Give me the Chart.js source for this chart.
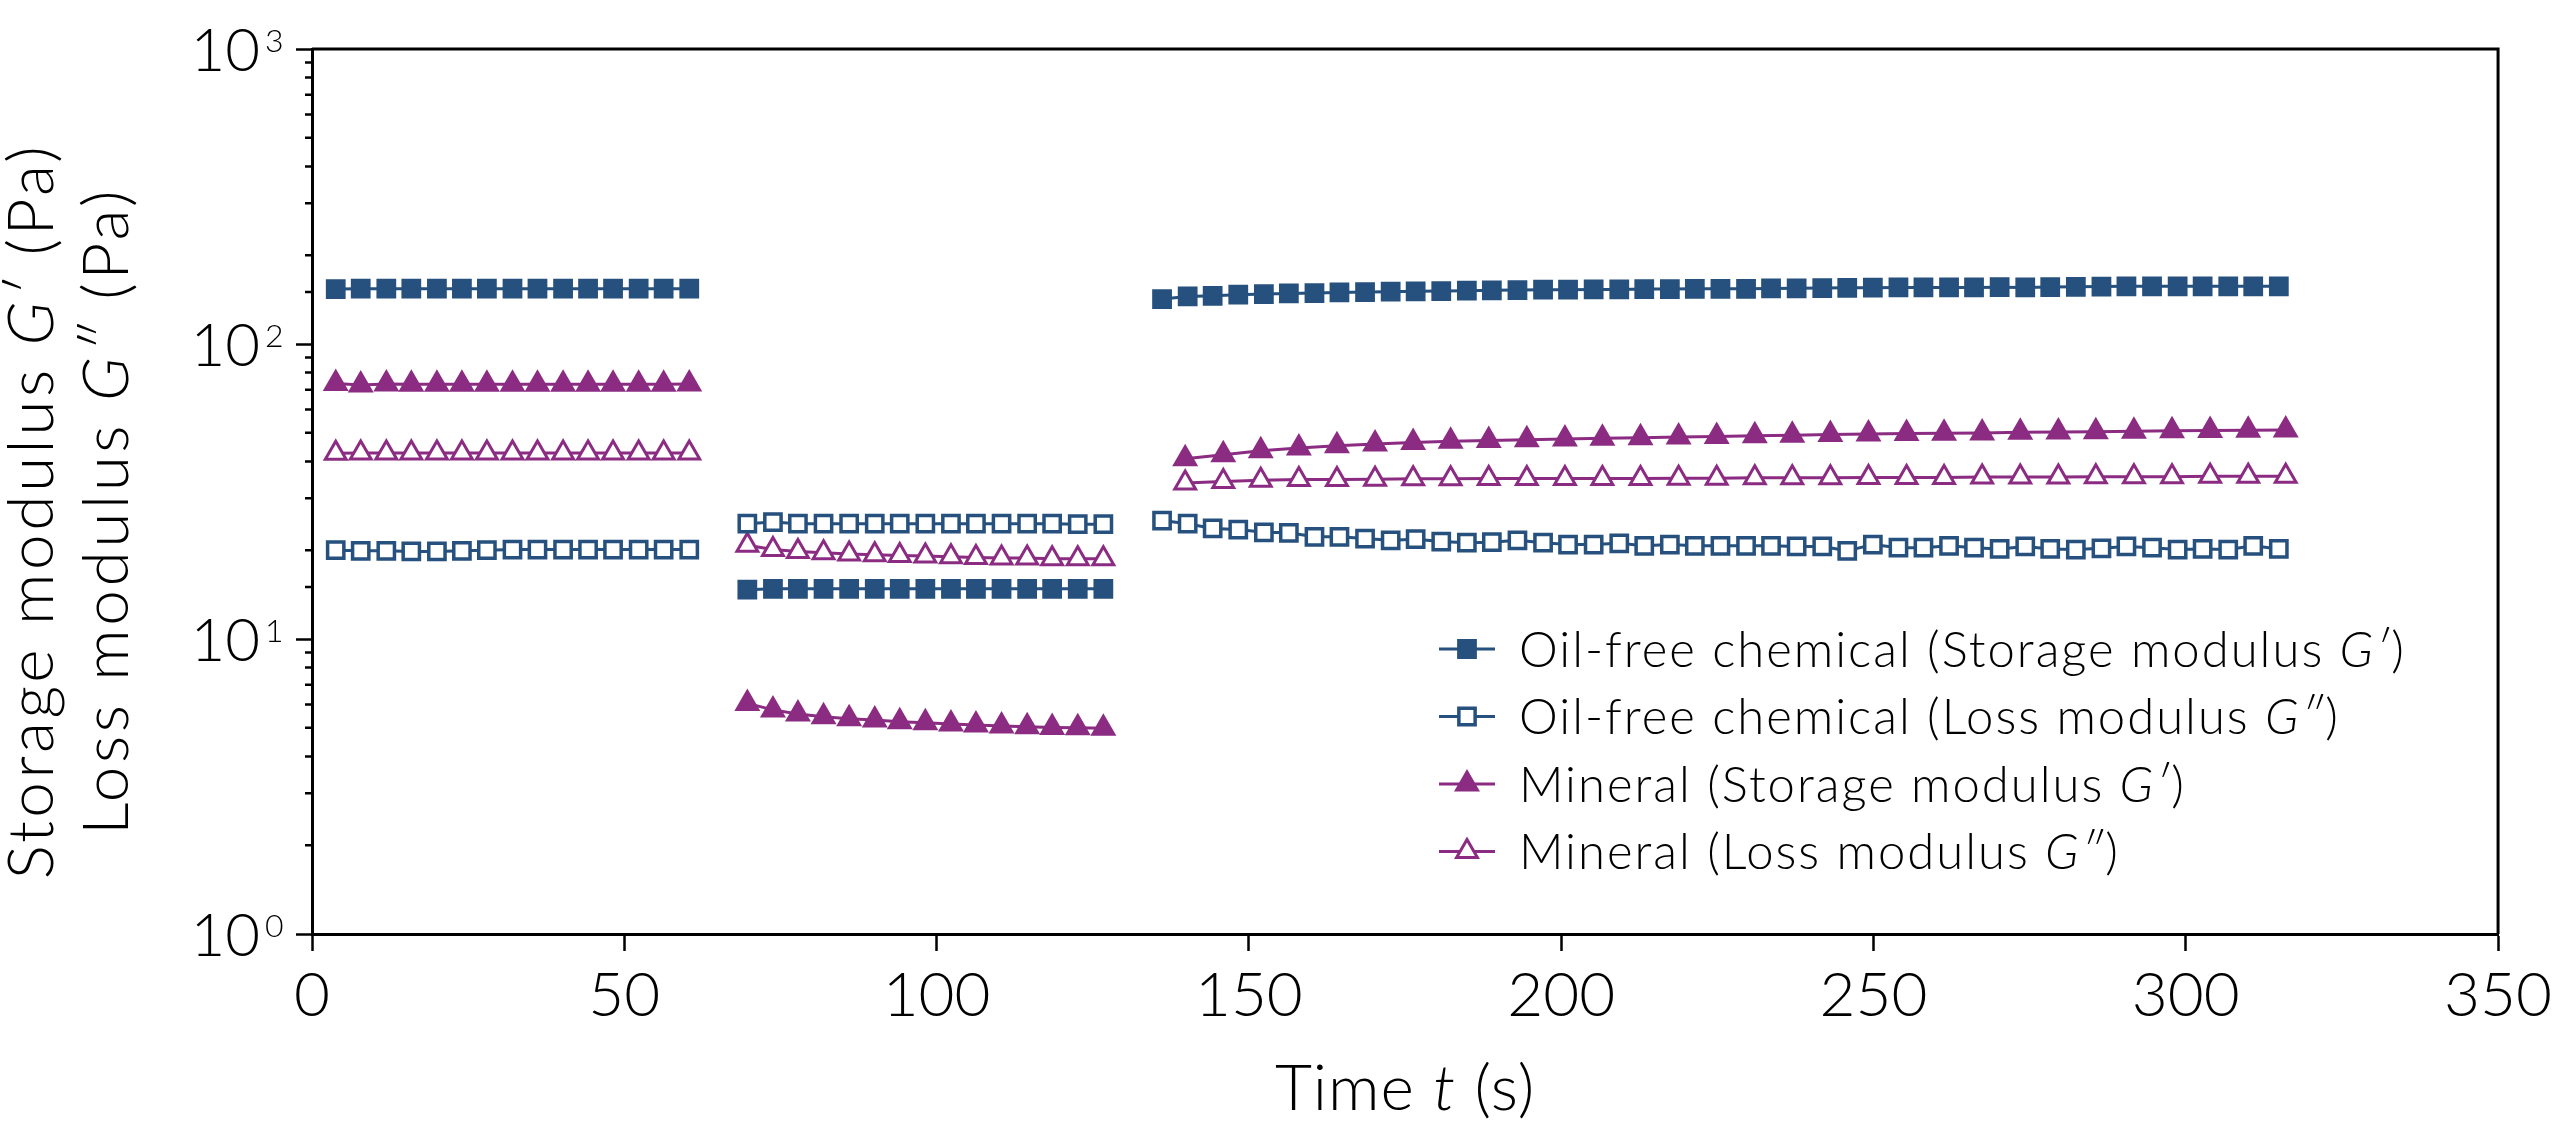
<!DOCTYPE html>
<html>
<head>
<meta charset="utf-8">
<script src="https://cdn.jsdelivr.net/npm/chart.js@4.4.0/dist/chart.umd.min.js"></script>
<style>
  html, body { margin: 0; padding: 0; background: #fff; }
  canvas { display: block; }
</style>
</head>
<body>
<canvas id="chart" width="2560" height="1129"></canvas>
<script>
// time stamps (s): low shear, high shear, recovery
const time1 = [3.8, 7.8, 11.9, 15.9, 20.0, 24.0, 28.0, 32.1, 36.1, 40.2, 44.2, 48.2, 52.3, 56.3, 60.4];
const time2 = [69.7, 73.8, 77.8, 81.9, 86.0, 90.1, 94.1, 98.2, 102.3, 106.3, 110.4, 114.5, 118.5, 122.6, 126.7];
const timeOil3 = [136.1, 140.2, 144.2, 148.3, 152.4, 156.4, 160.5, 164.5, 168.6, 172.7,
  176.7, 180.8, 184.9, 188.9, 193.0, 197.1, 201.1, 205.2, 209.3, 213.3,
  217.4, 221.4, 225.5, 229.6, 233.6, 237.7, 241.8, 245.8, 249.9, 254.0,
  258.0, 262.1, 266.1, 270.2, 274.3, 278.3, 282.4, 286.5, 290.5, 294.6,
  298.7, 302.7, 306.8, 310.8, 314.9];
const timeMin3 = [139.8, 145.9, 151.9, 158.0, 164.1, 170.2, 176.3, 182.3, 188.4, 194.5,
  200.6, 206.6, 212.7, 218.8, 224.9, 231.0, 237.0, 243.1, 249.2, 255.3,
  261.3, 267.4, 273.5, 279.6, 285.6, 291.7, 297.8, 303.9, 310.0, 316.0];

// oil-free chemical, storage modulus G' (Pa)
const oilGp1 = [153.5, 154, 154, 154, 154, 154, 154, 154, 154, 154, 154, 154, 154, 154, 154];
const oilGp2 = [14.7, 14.8, 14.8, 14.8, 14.8, 14.8, 14.8, 14.8, 14.8, 14.8, 14.8, 14.8, 14.8, 14.8, 14.8];
const oilGp3 = [142.0, 145.0, 145.7, 146.9, 147.6, 148.4, 148.8, 149.6, 150.0, 150.4,
  150.8, 151.2, 151.6, 152.0, 152.4, 152.8, 152.8, 153.1, 153.1, 153.5,
  153.5, 153.9, 153.9, 153.9, 154.3, 154.5, 154.7, 155.0, 155.2, 155.5,
  155.5, 155.5, 155.5, 155.8, 155.5, 156.0, 156.3, 156.5, 156.8, 156.8,
  156.8, 156.8, 156.8, 156.8, 156.8];

// oil-free chemical, loss modulus G'' (Pa)
const oilGpp1 = [20.0, 19.9, 19.9, 19.8, 19.8, 19.9, 20.0, 20.1, 20.1, 20.1, 20.1, 20.1, 20.1, 20.1, 20.1];
const oilGpp2 = [24.6, 24.9, 24.6, 24.6, 24.6, 24.6, 24.6, 24.6, 24.6, 24.6, 24.6, 24.6, 24.6, 24.5, 24.5];
const oilGpp3 = [25.2, 24.6, 23.7, 23.5, 23.0, 22.9, 22.2, 22.2, 21.9, 21.6,
  21.8, 21.4, 21.2, 21.3, 21.6, 21.2, 20.9, 20.9, 21.1, 20.7,
  20.9, 20.7, 20.7, 20.7, 20.7, 20.6, 20.6, 19.9, 20.9, 20.4,
  20.4, 20.7, 20.4, 20.2, 20.6, 20.2, 20.1, 20.3, 20.6, 20.4,
  20.1, 20.2, 20.1, 20.7, 20.2];

// mineral, storage modulus G' (Pa)
const minGp1 = [73.5, 72.6, 73.2, 73.0, 73.0, 73.0, 73.0, 73.0, 73.0, 73.0, 73.0, 73.0, 73.0, 73.0, 73.2];
const minGp2 = [6.05, 5.75, 5.57, 5.45, 5.37, 5.31, 5.24, 5.20, 5.15, 5.11, 5.07, 5.04, 5.01, 5.00, 4.98];
const minGp3 = [40.8, 42.1, 43.5, 44.4, 45.2, 45.8, 46.4, 46.8, 47.1, 47.4,
  47.6, 47.9, 48.1, 48.4, 48.6, 48.9, 49.1, 49.3, 49.5, 49.7,
  49.8, 49.9, 50.2, 50.3, 50.4, 50.6, 50.8, 50.9, 51.0, 51.1];

// mineral, loss modulus G'' (Pa)
const minGpp1 = [42.6, 42.7, 42.7, 42.7, 42.7, 42.7, 42.7, 42.7, 42.7, 42.7, 42.7, 42.7, 42.7, 42.7, 42.7];
const minGpp2 = [20.8, 20.1, 19.8, 19.6, 19.4, 19.3, 19.2, 19.1, 19.0, 18.9, 18.8, 18.8, 18.7, 18.7, 18.7];
const minGpp3 = [33.8, 34.2, 34.5, 34.7, 34.7, 34.8, 34.9, 34.9, 35.0, 35.0,
  35.0, 35.0, 35.0, 35.1, 35.1, 35.2, 35.2, 35.2, 35.3, 35.3,
  35.3, 35.4, 35.4, 35.4, 35.5, 35.5, 35.5, 35.6, 35.6, 35.6];

const xTicksMin = 0, xTicksMax = 350, xStep = 50;
const yMin = 1, yMax = 1000;

const blue = '#26507e';
const purple = '#8b2c82';
const FONT = 'Lato';
const WEIGHT = '300';

// put the three phases in one series, with a null point between them
function joinSegments(segs) {
  const pts = [];
  segs.forEach(([ts, vs], i) => {
    if (i > 0) pts.push({ x: (pts[pts.length - 1].x + ts[0]) / 2, y: null });
    ts.forEach((t, k) => pts.push({ x: t, y: vs[k] }));
  });
  return pts;
}

const markerSize = { rect: 11.5, triangle: 12 };
const markerStroke = { rect: 3.5, triangle: 3 };

function series(label, data, color, style, hollow) {
  return {
    label: label,
    data: data,
    borderColor: color,
    backgroundColor: color,
    borderWidth: 3,
    pointStyle: style,
    pointRadius: markerSize[style],
    pointHoverRadius: markerSize[style],
    pointBorderWidth: markerStroke[style],
    pointBorderColor: color,
    pointBackgroundColor: hollow ? '#fff' : color,
    spanGaps: false,
    tension: 0
  };
}

const legendItems = [
  { parts: [['Oil-free chemical (Storage modulus ', 0], ['G\u2032', 1], [')', 0]], color: blue, style: 'rect', hollow: false },
  { parts: [['Oil-free chemical (Loss modulus ', 0], ['G\u2033', 1], [')', 0]], color: blue, style: 'rect', hollow: true },
  { parts: [['Mineral (Storage modulus ', 0], ['G\u2032', 1], [')', 0]], color: purple, style: 'triangle', hollow: false },
  { parts: [['Mineral (Loss modulus ', 0], ['G\u2033', 1], [')', 0]], color: purple, style: 'triangle', hollow: true }
];

function isDecade(v) {
  const l = Math.log10(v);
  return Math.abs(l - Math.round(l)) < 1e-9;
}

function fontOf(italic, size) {
  return (italic ? 'italic ' : '') + WEIGHT + ' ' + size + 'px ' + FONT;
}

function drawRich(ctx, parts, x, y, size, align, spacing) {
  ctx.letterSpacing = (spacing || 0) + 'px';
  let w = 0;
  parts.forEach(p => {
    ctx.font = fontOf(p[1], size);
    w += ctx.measureText(p[0]).width;
  });
  let cx = align === 'center' ? x - w / 2 : x;
  parts.forEach(p => {
    ctx.font = fontOf(p[1], size);
    ctx.fillText(p[0], cx, y);
    cx += ctx.measureText(p[0]).width;
  });
  ctx.letterSpacing = '0px';
}

function marker(ctx, style, x, y, color, hollow) {
  ctx.fillStyle = hollow ? '#fff' : color;
  ctx.strokeStyle = color;
  ctx.lineWidth = markerStroke[style];
  Chart.helpers.drawPoint(ctx, { pointStyle: style, radius: markerSize[style], rotation: 0, borderWidth: markerStroke[style] }, x, y);
}

const decor = {
  id: 'decor',
  afterDraw(chart) {
    const { ctx, chartArea: a, scales: { y } } = chart;
    ctx.save();
    ctx.strokeStyle = '#000';
    ctx.lineWidth = 3;
    ctx.beginPath();
    ctx.moveTo(a.left, a.top);
    ctx.lineTo(a.right, a.top);
    ctx.lineTo(a.right, a.bottom);
    ctx.stroke();

    // minor ticks of the log axis
    ctx.lineWidth = 2.5;
    ctx.beginPath();
    y.ticks.forEach(t => {
      if (isDecade(t.value)) return;
      const py = y.getPixelForValue(t.value);
      ctx.moveTo(a.left - 7, py);
      ctx.lineTo(a.left, py);
    });
    ctx.stroke();

    // decade labels 10^n
    ctx.fillStyle = '#000';
    ctx.textBaseline = 'alphabetic';
    y.ticks.forEach(t => {
      if (!isDecade(t.value)) return;
      const py = y.getPixelForValue(t.value);
      ctx.font = fontOf(0, 60);
      ctx.textAlign = 'right';
      ctx.fillText('10', a.left - 52, py + 22);
      ctx.font = fontOf(0, 32);
      ctx.textAlign = 'left';
      ctx.fillText(String(Math.round(Math.log10(t.value))), a.left - 47, py + 3);
    });

    // axis titles
    ctx.textAlign = 'left';
    ctx.save();
    ctx.translate(53, 511);
    ctx.rotate(-Math.PI / 2);
    drawRich(ctx, [['Storage modulus ', 0], ['G\u2032', 1], [' (Pa)', 0]], 0, 0, 64, 'center', 3.5);
    ctx.restore();
    ctx.save();
    ctx.translate(128, 511);
    ctx.rotate(-Math.PI / 2);
    drawRich(ctx, [['Loss modulus ', 0], ['G\u2033', 1], [' (Pa)', 0]], 0, 0, 64, 'center', 3.5);
    ctx.restore();
    drawRich(ctx, [['Time ', 0], ['t', 1], [' (s)', 0]], (a.left + a.right) / 2, 1110, 64, 'center', 1);

    // legend
    legendItems.forEach((item, i) => {
      const ry = 649 + i * 67.5;
      ctx.strokeStyle = item.color;
      ctx.lineWidth = 3;
      ctx.beginPath();
      ctx.moveTo(1439, ry);
      ctx.lineTo(1495, ry);
      ctx.stroke();
      marker(ctx, item.style, 1467, ry, item.color, item.hollow);
      ctx.fillStyle = '#000';
      drawRich(ctx, item.parts, 1519, ry + 17.5, 49, 'left', 2);
    });
    ctx.restore();
  }
};

new Chart(document.getElementById('chart'), {
  type: 'line',
  data: {
    datasets: [
      series('Oil-free chemical (Storage modulus G\u2032)', joinSegments([[time1, oilGp1], [time2, oilGp2], [timeOil3, oilGp3]]), blue, 'rect', false),
      series('Oil-free chemical (Loss modulus G\u2033)', joinSegments([[time1, oilGpp1], [time2, oilGpp2], [timeOil3, oilGpp3]]), blue, 'rect', true),
      series('Mineral (Storage modulus G\u2032)', joinSegments([[time1, minGp1], [time2, minGp2], [timeMin3, minGp3]]), purple, 'triangle', false),
      series('Mineral (Loss modulus G\u2033)', joinSegments([[time1, minGpp1], [time2, minGpp2], [timeMin3, minGpp3]]), purple, 'triangle', true)
    ]
  },
  options: {
    responsive: false,
    devicePixelRatio: 1,
    animation: false,
    layout: { padding: { top: 49, right: 57, left: 0, bottom: 0 } },
    plugins: { legend: { display: false }, tooltip: { enabled: false } },
    scales: {
      x: {
        type: 'linear',
        min: xTicksMin,
        max: xTicksMax,
        ticks: { stepSize: xStep, color: '#000', font: { family: FONT, size: 62, weight: WEIGHT }, padding: 8, maxRotation: 0 },
        grid: { drawOnChartArea: false, tickLength: 17, tickWidth: 2.5, tickColor: '#000' },
        border: { color: '#000', width: 3 },
        afterFit: s => { s.height = 195; }
      },
      y: {
        type: 'logarithmic',
        min: yMin,
        max: yMax,
        ticks: { display: false, autoSkip: false },
        grid: {
          drawOnChartArea: false,
          tickLength: 16,
          tickWidth: 2.5,
          tickColor: c => (c.tick && isDecade(c.tick.value)) ? '#000' : 'rgba(0,0,0,0)'
        },
        border: { color: '#000', width: 3 },
        afterFit: s => { s.width = 312; }
      }
    }
  },
  plugins: [decor]
});
</script>
</body>
</html>
